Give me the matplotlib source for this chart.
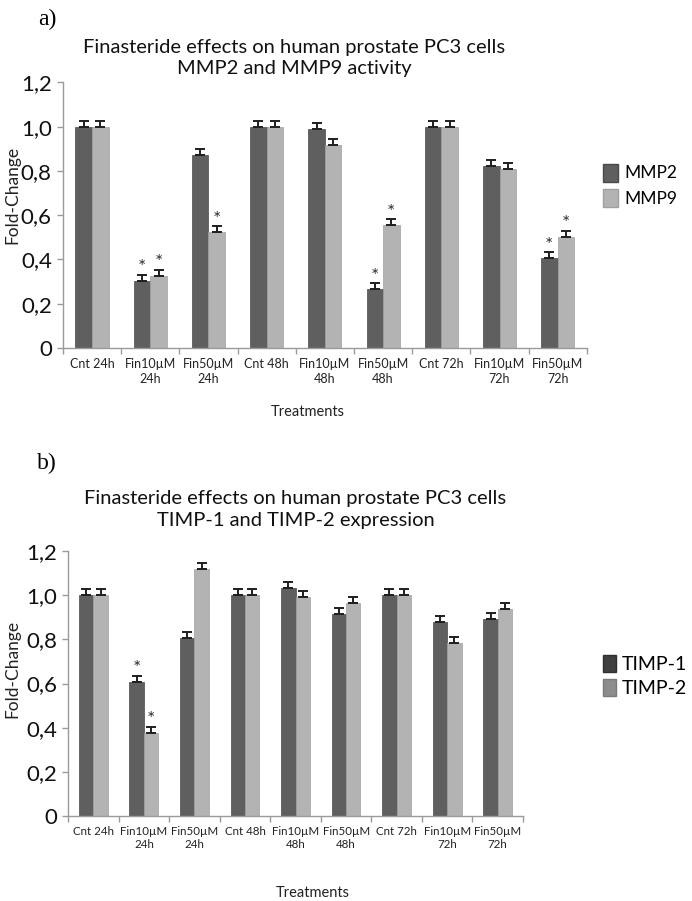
import numpy as np
import matplotlib.pyplot as plt
from matplotlib.patches import Patch

# Treatments shown on both panels
categories = ["Cnt 24h", "Fin10µM\n24h", "Fin50µM\n24h", "Cnt 48h", "Fin10µM\n48h",
              "Fin50µM\n48h", "Cnt 72h", "Fin10µM\n72h", "Fin50µM\n72h"]

# panel a : MMP2 / MMP9 activity
mmp2 = [1.0, 0.304, 0.871, 1.0, 0.991, 0.266, 1.0, 0.821, 0.406]
mmp9 = [1.0, 0.326, 0.522, 1.0, 0.918, 0.554, 1.0, 0.81, 0.503]
mmp2_err = [0.027, 0.027, 0.027, 0.027, 0.027, 0.027, 0.027, 0.027, 0.027]
mmp9_err = [0.027, 0.027, 0.027, 0.027, 0.027, 0.027, 0.027, 0.027, 0.027]
mmp2_sig = [0, 1, 0, 0, 0, 1, 0, 0, 1]
mmp9_sig = [0, 1, 1, 0, 0, 1, 0, 0, 1]

# panel b : TIMP-1 / TIMP-2 expression
timp1 = [1.0, 0.607, 0.807, 1.0, 1.032, 0.914, 1.0, 0.88, 0.893]
timp2 = [1.0, 0.378, 1.117, 1.0, 0.993, 0.965, 1.0, 0.785, 0.938]
timp1_err = [0.027, 0.027, 0.027, 0.027, 0.027, 0.027, 0.027, 0.027, 0.027]
timp2_err = [0.027, 0.027, 0.027, 0.027, 0.027, 0.027, 0.027, 0.027, 0.027]
timp1_sig = [0, 1, 0, 0, 0, 0, 0, 0, 0]
timp2_sig = [0, 1, 0, 0, 0, 0, 0, 0, 0]

yticks = [0, 0.2, 0.4, 0.6, 0.8, 1.0, 1.2]
ytick_labels = ["0", "0,2", "0,4", "0,6", "0,8", "1,0", "1,2"]

FONT = ["Lato", "DejaVu Sans"]
DARK = "#5f5f5f"
LIGHT = "#b3b3b3"
AXIS = "#9a9a9a"


def panel(ax, s1, s2, e1, e2, sig1, sig2, ylabel_pos, xlabel_pos, xtick_size):
    x = np.arange(len(categories))
    w = 0.285
    ax.bar(x - w / 2, s1, w, color=DARK, edgecolor="#4a4a4a", linewidth=0.5, zorder=2)
    ax.bar(x + w / 2, s2, w, color=LIGHT, edgecolor="#a0a0a0", linewidth=0.5, zorder=2)
    # error bars on the upper side only
    ax.errorbar(x - w / 2, s1, yerr=[np.zeros(len(x)), e1], fmt="none",
                ecolor="#1e1e1e", elinewidth=1.4, capsize=3.8, capthick=1.4, zorder=3)
    ax.errorbar(x + w / 2, s2, yerr=[np.zeros(len(x)), e2], fmt="none",
                ecolor="#1e1e1e", elinewidth=1.4, capsize=3.8, capthick=1.4, zorder=3)

    # asterisks for significant values
    for i in range(len(x)):
        if sig1[i]:
            ax.annotate("*", (x[i] - w / 2, s1[i] + e1[i]), xytext=(0, -1),
                        textcoords="offset points", ha="center", va="bottom",
                        fontsize=14, color="#333333", family=FONT)
        if sig2[i]:
            ax.annotate("*", (x[i] + w / 2, s2[i] + e2[i]), xytext=(0, -1),
                        textcoords="offset points", ha="center", va="bottom",
                        fontsize=14, color="#333333", family=FONT)

    ax.set_xlim(-0.5, len(x) - 0.5)
    ax.set_ylim(0, 1.2)
    ax.set_yticks(yticks)
    ax.set_yticklabels(ytick_labels, fontsize=16, family=FONT, color="#111111")
    ax.set_xticks(x)
    ax.set_xticklabels(categories, fontsize=xtick_size, family=FONT, color="#222222",
                       linespacing=1.3)
    ax.set_xticks(np.arange(len(x) + 1) - 0.5, minor=True)
    ax.tick_params(axis="x", which="major", length=0, pad=7)
    ax.tick_params(axis="x", which="minor", length=4, color=AXIS, width=1)
    ax.tick_params(axis="y", length=4, color=AXIS, width=1, pad=4)

    for s in ["top", "right"]:
        ax.spines[s].set_visible(False)
    for s in ["left", "bottom"]:
        ax.spines[s].set_color(AXIS)
        ax.spines[s].set_linewidth(1)

    ax.set_ylabel("Fold-Change", fontsize=12.5, family=FONT, color="#222222")
    ax.yaxis.set_label_coords(*ylabel_pos)
    ax.set_xlabel("Treatments", fontsize=10.5, family=FONT, color="#222222")
    ax.xaxis.set_label_coords(*xlabel_pos)


fig = plt.figure(figsize=(6.92, 9.01), dpi=100)

# a) MMP2 / MMP9
ax1 = fig.add_axes([0.091, 0.6138, 0.757, 0.2948])
panel(ax1, mmp2, mmp9, mmp2_err, mmp9_err, mmp2_sig, mmp9_sig,
      (-0.082, 0.576), (0.468, -0.215), 9.0)
fig.text(0.068, 0.978, "a)", fontsize=17, family="Liberation Serif", ha="center", va="center")
fig.text(0.425, 0.936, "Finasteride effects on human prostate PC3 cells\nMMP2 and MMP9 activity",
         fontsize=14.5, family=FONT, ha="center", va="center", linespacing=1.3, color="#111111")
ax1.legend(handles=[Patch(facecolor=DARK, edgecolor="#4a4a4a", label="MMP2"),
                    Patch(facecolor=LIGHT, edgecolor="#a0a0a0", label="MMP9")],
           loc="center left", bbox_to_anchor=(1.008, 0.612), frameon=False,
           prop={"family": FONT, "size": 12.5}, handlelength=0.85, handleheight=1.2,
           handletextpad=0.35, labelspacing=0.45, borderpad=0.2)

# b) TIMP-1 / TIMP-2
ax2 = fig.add_axes([0.0983, 0.0943, 0.6575, 0.2941])
panel(ax2, timp1, timp2, timp1_err, timp2_err, timp1_sig, timp2_sig,
      (-0.105, 0.555), (0.538, -0.265), 8.3)
fig.text(0.068, 0.486, "b)", fontsize=17, family="Liberation Serif", ha="center", va="center")
fig.text(0.427, 0.4345, "Finasteride effects on human prostate PC3 cells\nTIMP-1 and TIMP-2 expression",
         fontsize=14.5, family=FONT, ha="center", va="center", linespacing=1.3, color="#111111")
ax2.legend(handles=[Patch(facecolor="#404040", edgecolor="#303030", label="TIMP-1"),
                    Patch(facecolor="#8c8c8c", edgecolor="#7a7a7a", label="TIMP-2")],
           loc="center left", bbox_to_anchor=(1.145, 0.528), frameon=False,
           prop={"family": FONT, "size": 14}, handlelength=0.7, handleheight=1.0,
           handletextpad=0.3, labelspacing=0.3, borderpad=0.2)

fig.savefig("out.png", dpi=100)
